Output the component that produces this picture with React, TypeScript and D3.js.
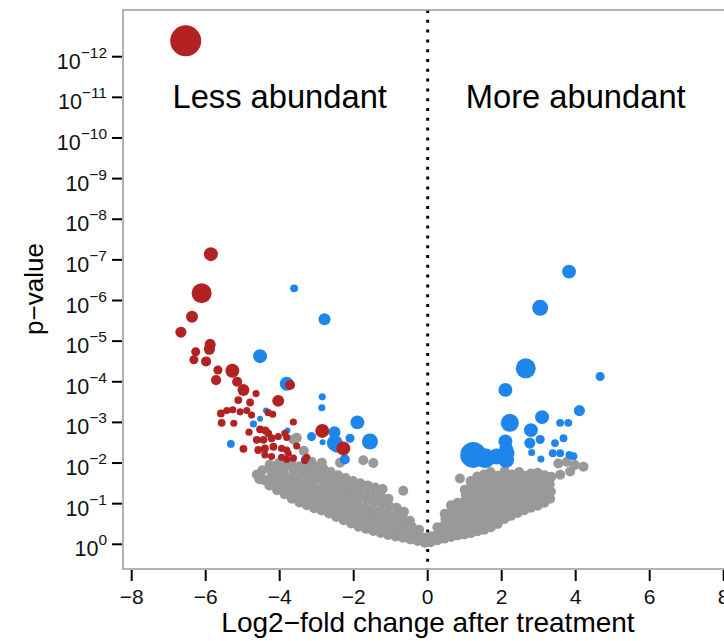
import React from 'react';
import * as d3 from 'd3';

// x: log2 fold change, second: -log10(p-value), third: abundance
const redPoints: [number, number, number][] = [
  [-6.54, 12.39, 94], [-5.86, 7.14, 19], [-6.11, 6.18, 39], [-6.37, 5.6, 14], [-6.67, 5.22, 12],
  [-5.88, 4.92, 12], [-5.9, 4.8, 12], [-6.27, 4.74, 8], [-6.32, 4.54, 8], [-5.99, 4.5, 10],
  [-5.67, 4.29, 8], [-5.28, 4.27, 19], [-5.72, 4.04, 10], [-5.15, 4.0, 10], [-4.98, 3.8, 14],
  [-4.64, 3.71, 5], [-5.12, 3.55, 6], [-4.8, 3.49, 6], [-4.04, 3.53, 14], [-3.72, 3.92, 10],
  [-5.59, 3.22, 6], [-5.43, 3.29, 5], [-5.27, 3.31, 5], [-5.07, 3.26, 5], [-4.89, 3.29, 5],
  [-4.76, 3.18, 5], [-4.31, 3.24, 5], [-4.19, 3.2, 5], [-5.57, 2.99, 6], [-5.24, 2.98, 5],
  [-3.63, 3.01, 5], [-4.83, 2.76, 5], [-4.53, 2.83, 6], [-4.39, 2.8, 6], [-4.31, 2.73, 6],
  [-4.62, 2.57, 6], [-4.44, 2.57, 6], [-4.22, 2.61, 6], [-4.04, 2.65, 5], [-3.86, 2.73, 5],
  [-3.81, 2.63, 5], [-4.58, 2.32, 6], [-4.4, 2.36, 6], [-4.17, 2.4, 6], [-3.95, 2.36, 5],
  [-3.81, 2.32, 5], [-3.54, 2.42, 5], [-4.98, 2.35, 6], [-4.4, 2.2, 5], [-4.22, 2.16, 5],
  [-3.95, 2.14, 5], [-3.81, 2.09, 5], [-3.63, 2.12, 5], [-3.27, 2.14, 5], [-3.32, 2.06, 5],
  [-3.77, 2.24, 5], [-2.85, 2.79, 19], [-2.28, 2.36, 19],
];

const bluePoints: [number, number, number][] = [
  [-3.61, 6.3, 6], [-2.79, 5.54, 14], [-4.53, 4.63, 19], [-3.81, 3.95, 19], [-2.85, 3.63, 5],
  [-2.86, 3.36, 5], [-4.37, 3.29, 3.5], [-4.53, 3.09, 3.5], [-4.71, 2.96, 5], [-3.79, 2.8, 3.5],
  [-1.9, 3.0, 19], [-2.52, 2.76, 14], [-2.1, 2.61, 8], [-1.56, 2.53, 25], [-2.51, 2.49, 25],
  [-3.14, 2.65, 8], [-2.84, 2.51, 3.5], [-5.32, 2.47, 6], [-2.24, 2.09, 10], [-3.32, 2.09, 6],
  [-2.46, 2.4, 14],
  [3.82, 6.71, 19], [3.04, 5.82, 25], [2.65, 4.33, 39], [2.1, 3.8, 19], [4.66, 4.13, 8],
  [4.1, 3.29, 12], [3.09, 3.13, 19], [2.22, 2.99, 32], [2.79, 2.81, 19], [3.58, 2.99, 6],
  [3.8, 2.99, 6], [2.1, 2.53, 19], [2.76, 2.49, 12], [3.04, 2.58, 8], [3.44, 2.49, 6],
  [3.67, 2.61, 6], [2.81, 2.26, 5], [3.38, 2.24, 6], [3.58, 2.24, 6], [3.83, 2.2, 6],
  [3.94, 2.17, 6], [3.06, 2.1, 5], [1.23, 2.2, 66], [1.55, 2.12, 39], [1.86, 2.16, 25],
  [2.13, 2.24, 25], [2.12, 2.08, 25], [2.12, 2.35, 19],
];

const greyPoints: [number, number][] = [
  [-4.62, 1.72], [-4.55, 1.6], [-4.47, 1.82], [-4.42, 1.58],
  [-4.28, 1.45], [-4.25, 1.63], [-4.22, 1.8], [-4.27, 1.96],
  [-4.07, 1.33], [-4.05, 1.5], [-4.03, 1.68], [-4.08, 1.85], [-4.02, 2.0],
  [-3.87, 1.23], [-3.85, 1.4], [-3.83, 1.58], [-3.88, 1.75], [-3.84, 1.92], [-3.86, 2.06],
  [-3.67, 1.12], [-3.65, 1.29], [-3.63, 1.47], [-3.66, 1.64], [-3.62, 1.82], [-3.68, 2.0], [-3.63, 2.58],
  [-3.47, 1.03], [-3.45, 1.2], [-3.43, 1.38], [-3.48, 1.56], [-3.44, 1.74], [-3.46, 1.92], [-3.54, 2.62], [-3.35, 2.3],
  [-3.27, 0.96], [-3.25, 1.12], [-3.23, 1.3], [-3.28, 1.48], [-3.24, 1.66], [-3.26, 1.84], [-3.22, 1.98], [-3.14, 2.03],
  [-3.07, 0.89], [-3.05, 1.05], [-3.03, 1.22], [-3.08, 1.4], [-3.04, 1.58], [-3.06, 1.76], [-3.02, 1.9],
  [-2.87, 0.83], [-2.85, 1.0], [-2.83, 1.18], [-2.88, 1.36], [-2.84, 1.54], [-2.86, 1.72], [-2.82, 1.86], [-2.86, 2.01],
  [-2.67, 0.76], [-2.65, 0.92], [-2.63, 1.1], [-2.68, 1.28], [-2.64, 1.46], [-2.66, 1.64], [-2.62, 1.78],
  [-2.47, 0.67], [-2.45, 0.84], [-2.43, 1.02], [-2.48, 1.2], [-2.44, 1.38], [-2.46, 1.56], [-2.42, 1.7], [-2.37, 2.01],
  [-2.27, 0.59], [-2.25, 0.76], [-2.23, 0.94], [-2.28, 1.12], [-2.24, 1.3], [-2.26, 1.48], [-2.22, 1.63],
  [-2.07, 0.51], [-2.05, 0.68], [-2.03, 0.86], [-2.08, 1.04], [-2.04, 1.22], [-2.06, 1.4], [-2.02, 1.56],
  [-1.87, 0.43], [-1.85, 0.6], [-1.83, 0.78], [-1.88, 0.96], [-1.84, 1.14], [-1.86, 1.32], [-1.82, 1.5], [-1.74, 2.07],
  [-1.67, 0.38], [-1.65, 0.55], [-1.63, 0.73], [-1.68, 0.91], [-1.64, 1.09], [-1.66, 1.27], [-1.62, 1.45], [-1.47, 2.0],
  [-1.47, 0.33], [-1.45, 0.5], [-1.43, 0.68], [-1.48, 0.86], [-1.44, 1.04], [-1.46, 1.22], [-1.42, 1.4],
  [-1.27, 0.28], [-1.25, 0.46], [-1.23, 0.64], [-1.28, 0.82], [-1.24, 1.0], [-1.26, 1.18], [-1.22, 1.36],
  [-1.07, 0.23], [-1.05, 0.4], [-1.03, 0.58], [-1.08, 0.76], [-1.04, 0.94], [-1.06, 1.12],
  [-0.87, 0.19], [-0.85, 0.36], [-0.83, 0.54], [-0.88, 0.72], [-0.84, 0.9], [-0.66, 1.32],
  [-0.67, 0.16], [-0.65, 0.33], [-0.63, 0.5], [-0.68, 0.67], [-0.64, 0.8],
  [-0.47, 0.12], [-0.45, 0.28], [-0.43, 0.44], [-0.48, 0.58],
  [-0.27, 0.08], [-0.25, 0.22], [-0.23, 0.36],
  [-0.08, 0.04], [-0.06, 0.16],
  [0.08, 0.05], [0.12, 0.2],
  [0.27, 0.1], [0.29, 0.26], [0.26, 0.42],
  [0.45, 0.14], [0.47, 0.3], [0.44, 0.46], [0.48, 0.62], [0.46, 0.75],
  [0.63, 0.18], [0.65, 0.34], [0.62, 0.5], [0.66, 0.66], [0.64, 0.82], [0.63, 0.96],
  [0.81, 0.22], [0.83, 0.38], [0.8, 0.54], [0.84, 0.7], [0.82, 0.86], [0.81, 1.02], [0.87, 1.62],
  [0.99, 0.24], [1.01, 0.4], [0.98, 0.56], [1.02, 0.72], [1.0, 0.88], [0.99, 1.04], [1.03, 1.2], [1.0, 1.34],
  [1.17, 0.27], [1.19, 0.43], [1.16, 0.6], [1.2, 0.77], [1.18, 0.94], [1.17, 1.1], [1.21, 1.27], [1.18, 1.44], [1.16, 1.56],
  [1.35, 0.32], [1.37, 0.48], [1.34, 0.65], [1.38, 0.82], [1.36, 0.99], [1.35, 1.16], [1.39, 1.33], [1.36, 1.5], [1.34, 1.67],
  [1.53, 0.36], [1.55, 0.53], [1.52, 0.7], [1.56, 0.87], [1.54, 1.04], [1.53, 1.21], [1.57, 1.38], [1.54, 1.55], [1.52, 1.72],
  [1.71, 0.42], [1.73, 0.59], [1.7, 0.76], [1.74, 0.93], [1.72, 1.1], [1.71, 1.27], [1.75, 1.44], [1.72, 1.61], [1.7, 1.78],
  [1.89, 0.5], [1.91, 0.67], [1.88, 0.84], [1.92, 1.01], [1.9, 1.18], [1.89, 1.35], [1.93, 1.52], [1.9, 1.69],
  [2.07, 0.62], [2.09, 0.79], [2.06, 0.96], [2.1, 1.13], [2.08, 1.3], [2.07, 1.47], [2.11, 1.64], [2.08, 1.8],
  [2.25, 0.7], [2.27, 0.87], [2.24, 1.04], [2.28, 1.21], [2.26, 1.38], [2.25, 1.55], [2.29, 1.72],
  [2.43, 0.77], [2.45, 0.94], [2.42, 1.11], [2.46, 1.28], [2.44, 1.45], [2.43, 1.62], [2.47, 1.78],
  [2.61, 0.84], [2.63, 1.01], [2.6, 1.18], [2.64, 1.35], [2.62, 1.52], [2.61, 1.69],
  [2.79, 0.9], [2.81, 1.07], [2.78, 1.24], [2.82, 1.41], [2.8, 1.58], [2.79, 1.74],
  [2.97, 0.95], [2.99, 1.12], [2.96, 1.29], [3.0, 1.46], [2.98, 1.63], [2.97, 1.76],
  [3.15, 1.02], [3.17, 1.19], [3.14, 1.36], [3.18, 1.53], [3.16, 1.7],
  [3.31, 1.12], [3.33, 1.3], [3.3, 1.48], [3.34, 1.66],
  [3.53, 1.99], [3.76, 2.03], [3.98, 1.95], [4.21, 1.91], [3.58, 1.71], [3.85, 1.79],
];

const xTicks = [-8, -6, -4, -2, 0, 2, 4, 6, 8];
const yTickExponents = [0, -1, -2, -3, -4, -5, -6, -7, -8, -9, -10, -11, -12];
const annotations: { fc: number; negLogP: number; label: string }[] = [
  { fc: -4, negLogP: 11, label: 'Less abundant' },
  { fc: 4, negLogP: 11, label: 'More abundant' },
];
const xTitle = 'Log2\u2212fold change after treatment';
const yTitle = 'p\u2212value';

const RED = '#B22222';
const BLUE = '#1E86EA';
const GREY = '#999999';
const FONT = 'Liberation Sans, Arial, sans-serif';

const fmt = (n: number) => (n < 0 ? '\u2212' + Math.abs(n) : String(n));

export default function App() {
  const W = 724, H = 641;
  const left = 123, top = 10, bottom = 569, right = 760;
  const x = d3.scaleLinear().domain([-8, 8]).range([131.7, 723.7]);
  const y = d3.scaleLog().domain([1, 1e-12]).range([544.3, 56.7]);
  const r = d3.scaleSqrt().domain([0, 100]).range([0, 16]);
  const py = (L: number) => y(Math.pow(10, -L));

  return (
    <svg width={W} height={H} style={{ position: 'absolute', left: 0, top: 0, background: '#fff' }} fontFamily={FONT}>
      <rect x={0} y={0} width={W} height={H} fill="#fff" />
      {/* dotted zero line */}
      <line x1={x(0)} x2={x(0)} y1={top} y2={bottom} stroke="#000" strokeWidth={3} strokeDasharray="3 6.8" />
      <g>
        {greyPoints.map((d, i) => (
          <circle key={'g' + i} cx={x(d[0])} cy={py(d[1])} r={5} fill={GREY} />
        ))}
      </g>
      <g>
        {bluePoints.map((d, i) => (
          <circle key={'b' + i} cx={x(d[0])} cy={py(d[1])} r={r(d[2])} fill={BLUE} />
        ))}
      </g>
      <g>
        {redPoints.map((d, i) => (
          <circle key={'r' + i} cx={x(d[0])} cy={py(d[1])} r={r(d[2])} fill={RED} />
        ))}
      </g>
      {/* box */}
      <rect x={left} y={top} width={right - left} height={bottom - top} fill="none" stroke="#a0a0a0" strokeWidth={1.6} />
      {/* x axis ticks */}
      {xTicks.map((t) => (
        <g key={'xt' + t}>
          <line x1={x(t)} x2={x(t)} y1={bottom + 1} y2={bottom + 12} stroke="#000" strokeWidth={2} />
          <text x={x(t)} y={604} textAnchor="middle" fontSize={21} fill="#111">{fmt(t)}</text>
        </g>
      ))}
      {/* y axis ticks */}
      {yTickExponents.map((e) => (
        <g key={'yt' + e}>
          <line x1={left - 11} x2={left - 1} y1={y(Math.pow(10, e))} y2={y(Math.pow(10, e))} stroke="#000" strokeWidth={2} />
          <text x={107} y={y(Math.pow(10, e)) + 12} textAnchor="end" fill="#111">
            <tspan fontSize={21.5}>10</tspan>
            <tspan fontSize={15.5} dy={-11}>{fmt(e)}</tspan>
          </text>
        </g>
      ))}
      {annotations.map((a) => (
        <text key={a.label} x={x(a.fc)} y={py(a.negLogP) + 11} textAnchor="middle" fontSize={32.7} fill="#000">
          {a.label}
        </text>
      ))}
      <text x={428} y={632} textAnchor="middle" fontSize={28} fill="#000">{xTitle}</text>
      <text transform={`translate(43, 289) rotate(-90)`} textAnchor="middle" fontSize={26} fill="#000">{yTitle}</text>
    </svg>
  );
}
